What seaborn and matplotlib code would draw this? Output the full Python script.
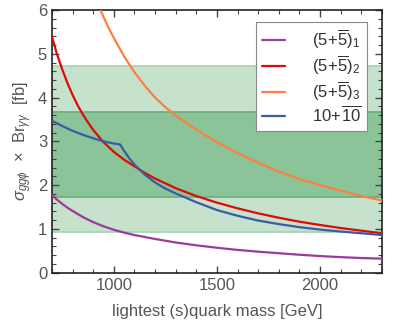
import matplotlib
matplotlib.use('Agg')
import matplotlib.pyplot as plt
from matplotlib.ticker import MultipleLocator
import seaborn as sns
import pandas as pd

# 读取的数据 (GeV, fb)
mass_5_1 = [700, 725, 750, 775, 800, 850, 900, 950, 1000, 1050, 1100, 1200, 1300,
            1400, 1500, 1600, 1700, 1800, 1900, 2000, 2100, 2200, 2300]
xsec_5_1 = [1.77, 1.665, 1.57, 1.485, 1.41, 1.27, 1.155, 1.06, 0.98, 0.915, 0.86, 0.77,
            0.69, 0.625, 0.57, 0.52, 0.48, 0.445, 0.41, 0.38, 0.355, 0.335, 0.32]

mass_5_2 = [700, 725, 750, 775, 800, 825, 850, 875, 900, 950, 1000, 1050, 1100,
            1150, 1200, 1300, 1400, 1500, 1600, 1700, 1800, 1900, 2000, 2100,
            2200, 2300]
xsec_5_2 = [5.39, 4.98, 4.64, 4.33, 4.06, 3.82, 3.61, 3.43, 3.26, 2.98, 2.76, 2.58,
            2.43, 2.28, 2.15, 1.93, 1.75, 1.60, 1.47, 1.355, 1.255, 1.165, 1.09,
            1.02, 0.96, 0.90]

mass_5_3 = [935, 950, 975, 1000, 1050, 1100, 1150, 1200, 1250, 1300, 1400, 1500,
            1600, 1700, 1800, 1900, 2000, 2100, 2200, 2300]
xsec_5_3 = [6.00, 5.84, 5.59, 5.36, 4.94, 4.58, 4.27, 4.00, 3.78, 3.59, 3.27, 2.98,
            2.73, 2.51, 2.31, 2.14, 2.00, 1.87, 1.75, 1.65]

mass_10 = [700, 750, 800, 850, 900, 950, 1000, 1030, 1050, 1075, 1100, 1150, 1200,
           1250, 1300, 1400, 1500, 1600, 1700, 1800, 1900, 2000, 2100, 2200, 2300]
xsec_10 = [3.47, 3.35, 3.24, 3.15, 3.07, 3.00, 2.95, 2.93, 2.78, 2.61, 2.47, 2.24,
           2.06, 1.92, 1.81, 1.61, 1.43, 1.30, 1.19, 1.11, 1.04, 0.985, 0.94, 0.90, 0.86]

labels = [r'$(5\!+\!\overline{5})_1$', r'$(5\!+\!\overline{5})_2$',
          r'$(5\!+\!\overline{5})_3$', r'$10\!+\!\overline{10}$']
colors = ['#9B3A9B', '#DD0A0A', '#FF7F40', '#3A5BA6']

band_2sigma = (0.94, 4.73)
band_1sigma = (1.73, 3.67)

sns.set_style('ticks')
plt.rcParams['font.family'] = ['Liberation Sans', 'DejaVu Sans']
plt.rcParams['mathtext.fontset'] = 'custom'
plt.rcParams['mathtext.rm'] = 'Liberation Sans'
plt.rcParams['mathtext.it'] = 'Liberation Sans:italic'
plt.rcParams['mathtext.bf'] = 'Liberation Sans:bold'

frames = []
for lab, m, v in zip(labels,
                     [mass_5_1, mass_5_2, mass_5_3, mass_10],
                     [xsec_5_1, xsec_5_2, xsec_5_3, xsec_10]):
    frames.append(pd.DataFrame({'mass': m, 'xsec': v, 'model': lab}))
df = pd.concat(frames, ignore_index=True)

fig = plt.figure(figsize=(4.17, 3.35), dpi=100)
ax = fig.add_axes([0.1247, 0.186, 0.7913, 0.784])

# 实验带
ax.axhspan(*band_2sigma, color='#C6E2CC', lw=0, zorder=0)
ax.axhspan(*band_1sigma, color='#8AC498', lw=0, zorder=0)
for y in band_2sigma:
    ax.axhline(y, color='#AAD5B4', lw=1.3, zorder=0.5)
for y in band_1sigma:
    ax.axhline(y, color='#6DB27F', lw=1.3, zorder=0.5)

sns.lineplot(data=df, x='mass', y='xsec', hue='model', hue_order=labels,
             palette=colors, estimator=None, sort=True, lw=1.6, ax=ax,
             legend=False, zorder=3)
for ln in ax.get_lines()[4:8]:
    ln.set_solid_joinstyle('round')

ax.set_xlim(700, 2300)
ax.set_ylim(0, 6)
ax.xaxis.set_major_locator(MultipleLocator(500))
ax.xaxis.set_minor_locator(MultipleLocator(100))
ax.yaxis.set_major_locator(MultipleLocator(1))
ax.yaxis.set_minor_locator(MultipleLocator(0.2))
ax.tick_params(which='both', direction='in', top=True, right=True,
               color='#444444', labelcolor='#555555', labelsize=12)
ax.tick_params(which='major', length=5, width=1)
ax.tick_params(which='minor', length=3, width=0.8)
for s in ax.spines.values():
    s.set_color('#222222')
    s.set_linewidth(1.2)

ax.set_xlabel('lightest (s)quark mass [GeV]', fontsize=12, color='#555555', labelpad=8)
ax.set_ylabel(r'$\sigma_{gg\phi}$  $\times$  Br$_{\gamma\gamma}$  [fb]',
              fontsize=12, color='#555555', labelpad=3)

handles = ax.get_lines()[4:8]
leg = ax.legend(handles, labels, loc='upper right', bbox_to_anchor=(0.98, 0.985),
                fontsize=12, frameon=True, fancybox=False, framealpha=1,
                handlelength=1.4, handletextpad=1.6, borderpad=0.35,
                labelspacing=0.15)
leg.get_frame().set_edgecolor('#888888')
leg.get_frame().set_linewidth(0.8)
for t in leg.get_texts():
    t.set_color('#333333')

plt.savefig('out.png', dpi=100)
plt.close()
